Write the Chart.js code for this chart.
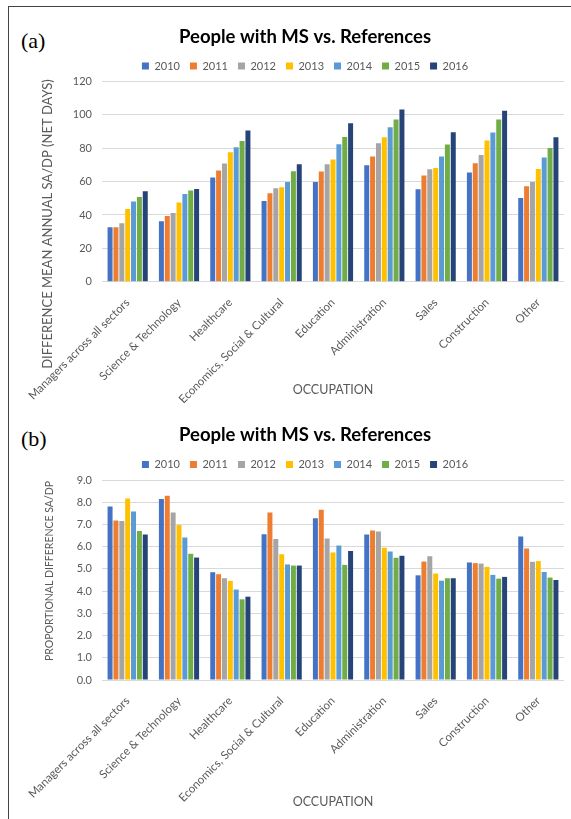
<!DOCTYPE html>
<html>
<head>
<meta charset="utf-8">
<script src="https://cdn.jsdelivr.net/npm/chart.js@4/dist/chart.umd.min.js"></script>
<style>
  html, body { margin: 0; padding: 0; background: #fff; overflow: hidden; }
  body { width: 571px; height: 819px; position: relative; }
  .frame { position: absolute; left: 8px; top: 6px; right: 0; bottom: 0; border-left: 1.5px solid #444; border-top: 1.5px solid #444; }
  .tag { position: absolute; font-family: "Liberation Serif", "DejaVu Serif", serif; font-size: 22px; color: #000; }
  canvas { position: absolute; }
</style>
</head>
<body>
<div class="frame"></div>
<div class="tag" style="left:21px; top:28px;">(a)</div>
<div class="tag" style="left:21px; top:426px;">(b)</div>
<canvas id="netDays" width="554" height="410" style="left:10px; top:0px;"></canvas>
<canvas id="propDiff" width="554" height="409" style="left:10px; top:410px;"></canvas>
<script>
const occupations = ['Managers across all sectors', 'Science & Technology', 'Healthcare',
  'Economics, Social & Cultural', 'Education', 'Administration', 'Sales', 'Construction', 'Other'];
const years = ['2010', '2011', '2012', '2013', '2014', '2015', '2016'];
const yearColors = ['#4472C4', '#ED7D31', '#A5A5A5', '#FFC000', '#5B9BD5', '#70AD47', '#264478'];

// (a) difference in mean annual SA/DP, net days
const netDays2010 = [32.6, 36.2, 62.4, 48.4, 59.8, 69.8, 55.4, 65.4, 50.2];
const netDays2011 = [32.6, 39.4, 66.6, 53.0, 66.0, 75.0, 63.6, 71.0, 57.2];
const netDays2012 = [35.0, 41.2, 70.8, 56.0, 70.4, 83.0, 67.4, 76.0, 59.8];
const netDays2013 = [43.6, 47.4, 77.6, 56.6, 73.2, 86.6, 68.2, 84.6, 67.6];
const netDays2014 = [48.0, 52.6, 80.6, 59.8, 82.4, 92.6, 75.0, 89.4, 74.4];
const netDays2015 = [50.8, 54.6, 84.4, 66.2, 86.8, 97.2, 82.2, 97.2, 80.2];
const netDays2016 = [54.2, 55.6, 90.6, 70.4, 95.0, 103.2, 89.6, 102.4, 86.6];

// (b) proportional difference SA/DP
const prop2010 = [7.81, 8.14, 4.85, 6.56, 7.28, 6.55, 4.71, 5.29, 6.46];
const prop2011 = [7.18, 8.29, 4.76, 7.54, 7.66, 6.73, 5.33, 5.26, 5.92];
const prop2012 = [7.15, 7.54, 4.58, 6.35, 6.37, 6.68, 5.57, 5.24, 5.32];
const prop2013 = [8.17, 6.98, 4.46, 5.66, 5.74, 5.95, 4.79, 5.09, 5.35];
const prop2014 = [7.58, 6.41, 4.07, 5.20, 6.05, 5.78, 4.47, 4.73, 4.86];
const prop2015 = [6.70, 5.68, 3.63, 5.15, 5.18, 5.50, 4.58, 4.56, 4.61];
const prop2016 = [6.55, 5.51, 3.75, 5.15, 5.80, 5.59, 4.58, 4.64, 4.50];

const netDaysTicks = { min: 0, max: 120, step: 20, decimals: 0 };
const propTicks = { min: 0, max: 9, step: 1, decimals: 1 };

const FONT = 'Lato';
const GREY = '#595959';

// draws the rotated y axis title at a fixed spot (Excel centres it on the whole axis)
const sideTitle = {
  id: 'sideTitle',
  afterDraw(chart, args, opts) {
    const ctx = chart.ctx;
    ctx.save();
    ctx.translate(opts.x, opts.y);
    ctx.rotate(-Math.PI / 2);
    ctx.font = opts.size + 'px ' + FONT;
    ctx.fillStyle = GREY;
    ctx.textAlign = 'center';
    ctx.textBaseline = 'middle';
    ctx.fillText(opts.text, 0, 0);
    ctx.restore();
  }
};

function makeChart(id, series, ticks, lay) {
  const ctx = document.getElementById(id).getContext('2d');
  return new Chart(ctx, {
    type: 'bar',
    data: {
      labels: occupations,
      datasets: years.map((y, i) => ({
        label: y,
        data: series[i],
        backgroundColor: yearColors[i],
        categoryPercentage: 0.8,
        barPercentage: 0.85
      }))
    },
    plugins: [sideTitle],
    options: {
      responsive: false,
      animation: false,
      layout: { padding: { left: 36, right: 0, top: 0, bottom: 0 } },
      plugins: {
        title: {
          display: true,
          text: 'People with MS vs. References',
          color: '#000',
          font: { family: FONT, size: 18.5, weight: 'bold' },
          padding: { top: lay.titleTop, bottom: lay.titleBottom }
        },
        legend: {
          position: 'top',
          labels: {
            boxWidth: 7, boxHeight: 7, padding: 10,
            color: GREY,
            font: { family: FONT, size: 11 }
          }
        },
        tooltip: { enabled: false },
        sideTitle: lay.side
      },
      scales: {
        x: {
          grid: { display: false },
          border: { color: '#D9D9D9' },
          ticks: {
            color: GREY, font: { family: FONT, size: 11.5 },
            minRotation: 45, maxRotation: 45, padding: 6, autoSkip: false
          },
          title: {
            display: true, text: 'OCCUPATION', color: GREY,
            font: { family: FONT, size: 12.5 },
            padding: { top: 0, bottom: lay.occBottom }
          },
          afterFit: s => { s.height = lay.xHeight; }
        },
        y: {
          min: ticks.min, max: ticks.max,
          grid: { color: '#D9D9D9', drawTicks: false },
          border: { display: false },
          ticks: {
            stepSize: ticks.step, color: GREY, padding: 10,
            font: { family: FONT, size: 11 },
            callback: v => v.toFixed(ticks.decimals)
          },
          afterFit: s => { s.width = 56; }
        }
      }
    }
  });
}

makeChart('netDays',
  [netDays2010, netDays2011, netDays2012, netDays2013, netDays2014, netDays2015, netDays2016],
  netDaysTicks,
  { titleTop: 25.9, titleBottom: 2.4, xHeight: 128.3, occBottom: 12.5,
    side: { text: 'DIFFERENCE MEAN ANNUAL SA/DP (NET DAYS)', x: 38, y: 224, size: 13 } });

makeChart('propDiff',
  [prop2010, prop2011, prop2012, prop2013, prop2014, prop2015, prop2016],
  propTicks,
  { titleTop: 13.9, titleBottom: 2.9, xHeight: 139, occBottom: 9.5,
    side: { text: 'PROPORTIONAL DIFFERENCE SA/DP', x: 40, y: 161, size: 10.5 } });
</script>
</body>
</html>
